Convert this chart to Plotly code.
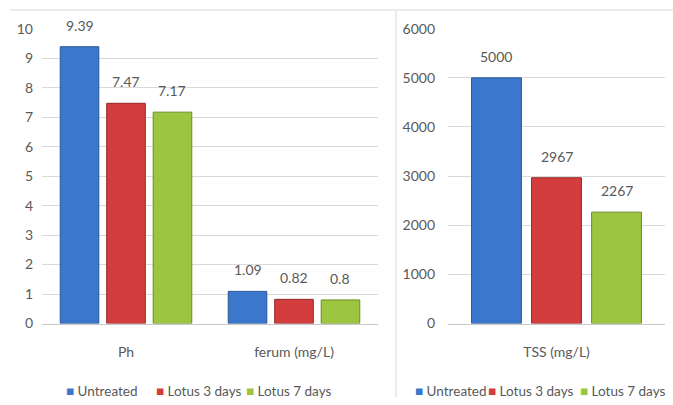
import plotly.graph_objects as go

# ---- data ----
series = ["Untreated", "Lotus 3 days", "Lotus 7 days"]
left_categories = ["Ph", "ferum (mg/L)"]
left_values = {
    "Untreated": [9.39, 1.09],
    "Lotus 3 days": [7.47, 0.82],
    "Lotus 7 days": [7.17, 0.8],
}
right_categories = ["TSS (mg/L)"]
right_values = {
    "Untreated": [5000],
    "Lotus 3 days": [2967],
    "Lotus 7 days": [2267],
}
left_ticks = [0, 1, 2, 3, 4, 5, 6, 7, 8, 9, 10]
right_ticks = [0, 1000, 2000, 3000, 4000, 5000, 6000]

colors = {"Untreated": "#3b78cc", "Lotus 3 days": "#d43d3d", "Lotus 7 days": "#9cc63f"}
edges = {"Untreated": "#2a5596", "Lotus 3 days": "#922828", "Lotus 7 days": "#6b8c28"}

FONT = "Lato, sans-serif"
FS = 14
TXT = "#595959"
BARGAP = 0.17
GROUPGAP = 0.17
W, H = 673, 405

fig = go.Figure()

for s in series:
    fig.add_trace(go.Bar(
        x=left_categories, y=left_values[s], name=s,
        marker=dict(color=colors[s], line=dict(color=edges[s], width=1)),
        xaxis="x", yaxis="y", showlegend=False,
    ))
for s in series:
    fig.add_trace(go.Bar(
        x=right_categories, y=right_values[s], name=s,
        marker=dict(color=colors[s], line=dict(color=edges[s], width=1)),
        xaxis="x2", yaxis="y2", showlegend=False,
    ))

# value labels above bars
slot = (1 - BARGAP) / len(series)
annotations = []
for ref, cats, vals in (("", left_categories, left_values), ("2", right_categories, right_values)):
    for i, s in enumerate(series):
        off = (i - (len(series) - 1) / 2) * slot
        for ci, v in enumerate(vals[s]):
            annotations.append(dict(
                x=ci + off, y=v, xref="x" + ref, yref="y" + ref,
                text=f"{v:g}", showarrow=False, yanchor="bottom", yshift=11,
                font=dict(family=FONT, size=FS, color=TXT),
            ))

# legends (one under each panel), built from the series list
legend_left_x = [64, 154, 244]
legend_right_x = [413, 486, 578]
LEG_Y = 399
for xs in (legend_left_x, legend_right_x):
    for s, px in zip(series, xs):
        annotations.append(dict(
            x=px / W, y=1 - LEG_Y / H, xref="paper", yref="paper",
            xanchor="left", yanchor="middle", showarrow=False,
            text=f"<span style='color:{colors[s]}'>■</span> {s}",
            font=dict(family=FONT, size=13.5, color=TXT),
        ))

axis_common = dict(
    showgrid=True, gridcolor="#d9d9d9", gridwidth=1,
    tickfont=dict(family=FONT, size=FS, color=TXT),
    zeroline=False, showline=False, ticks="",
)
xaxis_common = dict(
    showgrid=False, showline=True, linecolor="#c8c8c8",
    tickfont=dict(family=FONT, size=FS, color=TXT), ticks="", ticklabelstandoff=16,
)

PLOT_TOP, PLOT_BOTTOM = 20.6, 328.3
ydom = [1 - PLOT_BOTTOM / H, 1 - PLOT_TOP / H]

fig.update_layout(
    width=W, height=H,
    margin=dict(l=0, r=0, t=0, b=0),
    paper_bgcolor="white", plot_bgcolor="white",
    barmode="group", bargap=BARGAP, bargroupgap=GROUPGAP,
    xaxis=dict(domain=[42 / W, 378 / W], anchor="y", **xaxis_common),
    yaxis=dict(domain=ydom, range=[0, 10], tickvals=left_ticks, anchor="x",
               ticklabelstandoff=8, **axis_common),
    xaxis2=dict(domain=[448 / W, 665 / W], anchor="y2", **xaxis_common),
    yaxis2=dict(domain=ydom, range=[0, 6000], tickvals=right_ticks, anchor="x2",
                ticklabelstandoff=12, **axis_common),
    annotations=annotations,
    shapes=[
        dict(type="line", xref="paper", yref="paper", x0=10 / W, x1=1, y0=1 - 1 / H, y1=1 - 1 / H,
             line=dict(color="#d9d9d9", width=1)),
        dict(type="line", xref="paper", yref="paper", x0=396 / W, x1=396 / W, y0=0, y1=1 - 1 / H,
             line=dict(color="#d9d9d9", width=1)),
    ],
)

fig.write_html("out.html")
